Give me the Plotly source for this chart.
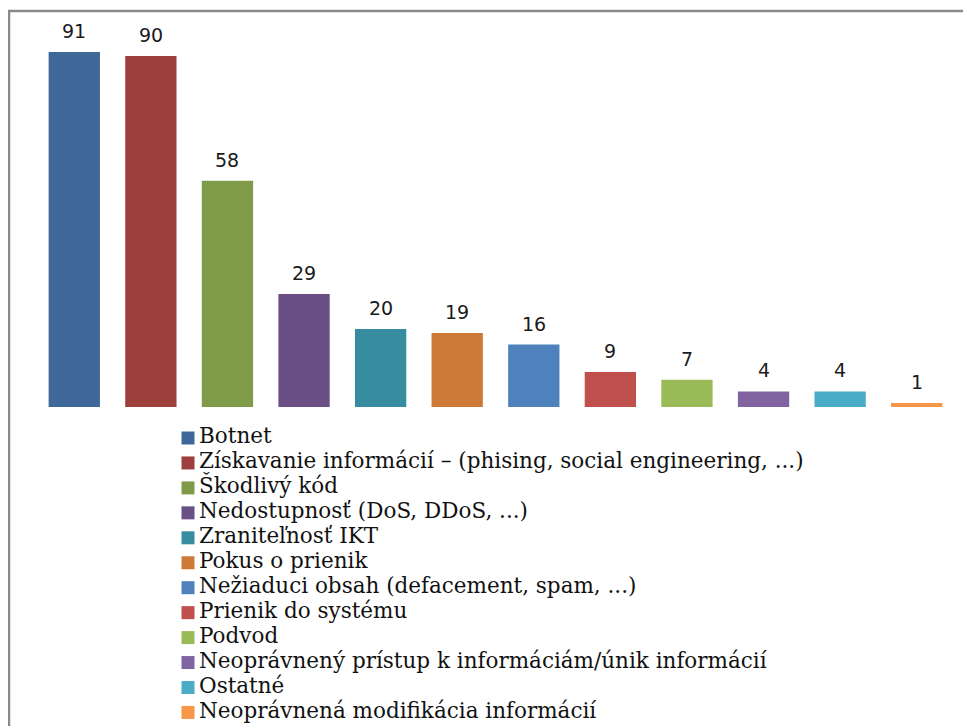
import plotly.graph_objects as go

categories = [
    "Botnet",
    "Získavanie informácií – (phising, social engineering, ...)",
    "Škodlivý kód",
    "Nedostupnosť (DoS, DDoS, ...)",
    "Zraniteľnosť IKT",
    "Pokus o prienik",
    "Nežiaduci obsah (defacement, spam, ...)",
    "Prienik do systému",
    "Podvod",
    "Neoprávnený prístup k informáciám/únik informácií",
    "Ostatné",
    "Neoprávnená modifikácia informácií",
]
values = [91, 90, 58, 29, 20, 19, 16, 9, 7, 4, 4, 1]
colors = ["#3F6797", "#9E3F3D", "#7F9A48", "#6A4F85", "#388CA0", "#CE7A36",
          "#4F81BD", "#C0504D", "#9BBB59", "#8064A2", "#4BACC6", "#F79646"]

W, H = 971, 726
OFF = 8  # page body margin offset (screen px -> figure px)

def fx(p):  # screen px -> figure px
    return p - OFF

plot_l, plot_r = fx(36), fx(955)
plot_t = fx(17)
base_px = fx(407)
ML, MR, MT, MB = plot_l, W - plot_r, plot_t, 0
plot_h = H - MT - MB
plot_w = W - ML - MR
bar_dom0 = (H - base_px) / plot_h

fig = go.Figure()

fig.add_trace(go.Bar(
    x=categories, y=values,
    marker=dict(color=colors, line=dict(width=0)),
    showlegend=False, hoverinfo="x+y",
    xaxis="x", yaxis="y",
))

for c, v in zip(categories, values):
    fig.add_annotation(
        x=c, y=v, xref="x", yref="y", text=str(v), showarrow=False,
        yanchor="bottom", yshift=8,
        font=dict(family="DejaVu Sans", size=19, color="#1a1a1a"),
    )

# legend rendered as a list on a hidden axis (row index = category order)
rows = list(range(len(categories)))
fig.add_trace(go.Scatter(
    x=[0] * len(categories), y=rows, mode="markers",
    marker=dict(symbol="square", size=13, color=colors, line=dict(width=0)),
    showlegend=False, hoverinfo="skip", xaxis="x2", yaxis="y2",
))
fig.add_trace(go.Scatter(
    x=[1] * len(categories), y=rows, mode="text", text=categories,
    textposition="middle right",
    textfont=dict(family="DejaVu Serif", size=21.5, color="#111111"),
    showlegend=False, hoverinfo="skip", xaxis="x2", yaxis="y2",
))

row0_px, row_step = fx(438), 24.95
y2_top = (base_px - row0_px) / row_step
y2_bot = (H - row0_px) / row_step
sw_px = fx(188)
unit = 11.0
x2_lo = (plot_l - sw_px) / unit
x2_hi = (plot_r - sw_px) / unit

fig.update_layout(
    width=W, height=H,
    margin=dict(l=ML, r=MR, t=MT, b=MB),
    paper_bgcolor="white", plot_bgcolor="white",
    bargap=0.33,
    xaxis=dict(domain=[0, 1], showticklabels=False, showgrid=False,
               zeroline=False, showline=False, ticks=""),
    yaxis=dict(domain=[bar_dom0, 1], range=[0, 100], showticklabels=False,
               showgrid=False, zeroline=False, showline=False, ticks=""),
    xaxis2=dict(domain=[0, 1], range=[x2_lo, x2_hi], visible=False, anchor="y2"),
    yaxis2=dict(domain=[0, bar_dom0], range=[y2_bot, y2_top], visible=False,
                anchor="x2"),
)

# frame (left and top borders)
def px_x(p):
    return (fx(p) - ML) / plot_w
def px_y(p):
    return (H - MB - fx(p)) / plot_h
fig.add_shape(type="line", xref="paper", yref="paper",
              x0=px_x(9), x1=px_x(9), y0=px_y(H + 20), y1=px_y(10),
              line=dict(color="#8a8a8a", width=2.5))
fig.add_shape(type="line", xref="paper", yref="paper",
              x0=px_x(8), x1=px_x(W + 20), y0=px_y(11), y1=px_y(11),
              line=dict(color="#8a8a8a", width=2.5))

fig.write_html("out.html")
